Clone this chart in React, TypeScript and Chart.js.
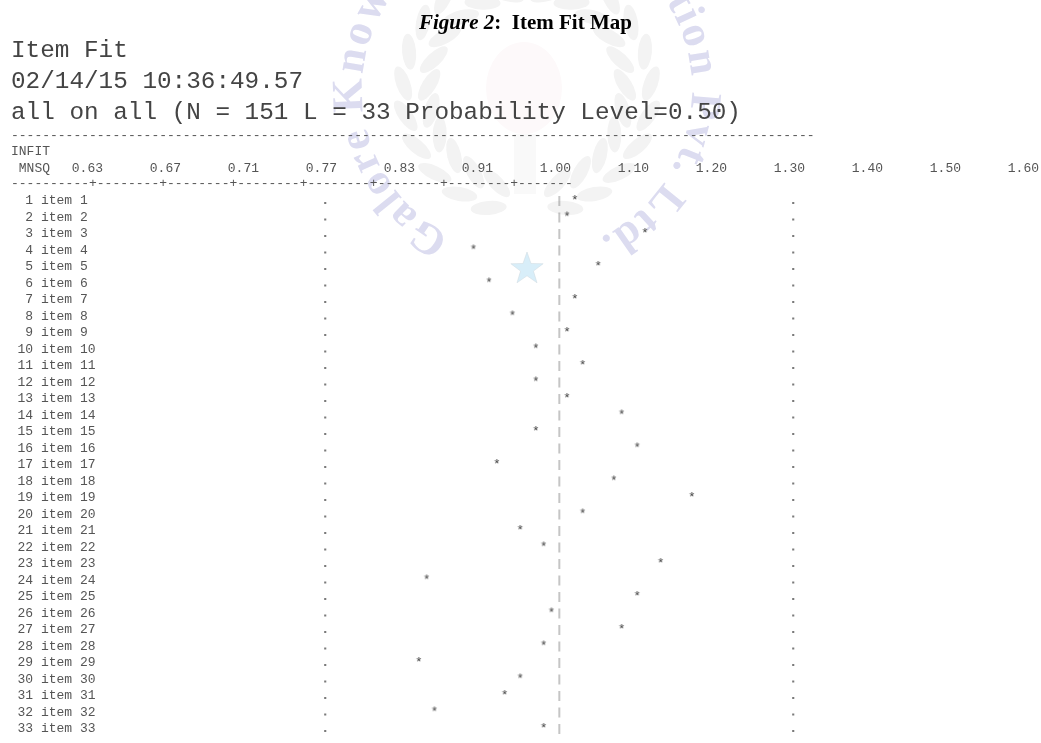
import React, { useEffect, useRef } from "react";
import { Chart, registerables } from "chart.js";

Chart.register(...registerables);

const MONO = '"Liberation Mono", monospace';
const SERIF = '"Liberation Serif", serif';
const INK = "#555555";

const caption = ["Figure 2", ":  Item Fit Map"];
const headerLines = ["Item Fit", "02/14/15 10:36:49.57", "all on all (N = 151 L = 33 Probability Level=0.50)"];
const tickLabels = ["0.63", "0.67", "0.71", "0.77", "0.83", "0.91", "1.00", "1.10", "1.20", "1.30", "1.40", "1.50", "1.60"];
const itemNumbers = [" 1", " 2", " 3", " 4", " 5", " 6", " 7", " 8", " 9", "10", "11", "12", "13", "14", "15", "16", "17", "18", "19", "20", "21", "22", "23", "24", "25", "26", "27", "28", "29", "30", "31", "32", "33"];
const itemNames = itemNumbers.map((n) => `${n} item ${n.trim()}`);
// Star positions on the axis, in tick units (0 = "0.63", 6 = "1.00", 9 = "1.30")
const starPositions = [6.2, 6.1, 7.1, 4.9, 6.5, 5.1, 6.2, 5.4, 6.1, 5.7, 6.3, 5.7, 6.1, 6.8, 5.7, 7.0, 5.2, 6.7, 7.7, 6.3, 5.5, 5.8, 7.3, 4.3, 7.0, 5.9, 6.8, 5.8, 4.2, 5.5, 5.3, 4.4, 5.8];
const lowerLimit = 3;
const centerLine = 6;
const upperLimit = 9;
const watermark = "Galore Knowledge of Innovation Pvt. Ltd.";

function glyph(ch: string, color: string, size = 13): HTMLCanvasElement {
  const c = document.createElement("canvas");
  c.width = 16;
  c.height = 20;
  const g = c.getContext("2d")!;
  g.font = `${size}px ${MONO}`;
  g.fillStyle = color;
  g.textAlign = "center";
  g.textBaseline = "middle";
  g.fillText(ch, 8, 10);
  return c;
}

const watermarkPlugin = {
  id: "watermark",
  beforeDraw(chart: any) {
    const ctx = chart.ctx;
    const cx = 527, cy = 90;
    ctx.save();
    // torch
    ctx.fillStyle = "#fdf9fa";
    ctx.beginPath();
    ctx.ellipse(524, 88, 38, 46, 0, 0, Math.PI * 2);
    ctx.fill();
    ctx.fillStyle = "#f9f9f9";
    ctx.fillRect(514, 134, 22, 60);
    // laurel wreath
    ctx.fillStyle = "#f3f3f3";
    for (const side of [-1, 1]) {
      for (let i = 0; i < 11; i++) {
        const a = ((18 + i * 15) * Math.PI) / 180;
        for (const [r, tilt] of [[98, 0.5], [124, -0.4]]) {
          const x = cx + side * r * Math.sin(a);
          const y = cy + r * Math.cos(a);
          ctx.beginPath();
          ctx.ellipse(x, y, 7, 18, -side * (a + tilt) + Math.PI / 2, 0, Math.PI * 2);
          ctx.fill();
        }
      }
    }
    // ring text
    ctx.font = `bold 44px ${SERIF}`;
    ctx.fillStyle = "#dcdcf0";
    ctx.textAlign = "center";
    ctx.textBaseline = "alphabetic";
    const widths = [...watermark].map((c) => ctx.measureText(c).width);
    const total = widths.reduce((a, b) => a + b, 0);
    const start = (207 * Math.PI) / 180;
    const span = (307 * Math.PI) / 180;
    let run = 0;
    [...watermark].forEach((c, i) => {
      const a = start + (span * (run + widths[i] / 2)) / total;
      run += widths[i];
      ctx.save();
      ctx.translate(cx + 165 * Math.sin(a), cy - 165 * Math.cos(a));
      ctx.rotate(a);
      ctx.fillText(c, 0, 0);
      ctx.restore();
    });
    // blue star
    ctx.fillStyle = "#d8eef9";
    ctx.strokeStyle = "#cfd8de";
    ctx.lineWidth = 0.5;
    ctx.beginPath();
    for (let i = 0; i < 10; i++) {
      const r = i % 2 === 0 ? 17 : 6.8;
      const a = (i * Math.PI) / 5;
      const x = 527 + r * Math.sin(a);
      const y = 269 - r * Math.cos(a);
      if (i === 0) ctx.moveTo(x, y);
      else ctx.lineTo(x, y);
    }
    ctx.closePath();
    ctx.fill();
    ctx.stroke();
    ctx.restore();
  },
};

const abs = (left: number, top: number, extra: React.CSSProperties): React.CSSProperties => ({
  position: "absolute",
  left,
  top,
  whiteSpace: "pre",
  margin: 0,
  pointerEvents: "none",
  ...extra,
});

export default function App() {
  const ref = useRef<HTMLCanvasElement>(null);
  useEffect(() => {
    const star = glyph("*", "#444444");
    const dot = glyph(".", "#444444");
    const bar = glyph("|", "#777777", 10);
    const series = (label: string, style: HTMLCanvasElement, xs: number[]) => ({
      label,
      data: xs.map((x, i) => ({ x, y: itemNames[i] })),
      pointStyle: style,
      pointRadius: 8,
      showLine: false,
      clip: false,
    });
    const chart = new Chart(ref.current!, {
      type: "scatter",
      data: {
        datasets: [
          series("lower", dot, itemNames.map(() => lowerLimit)),
          series("center", bar, itemNames.map(() => centerLine)),
          series("upper", dot, itemNames.map(() => upperLimit)),
          series("INFIT MNSQ", star, starPositions),
        ],
      },
      options: {
        responsive: false,
        animation: false,
        devicePixelRatio: 1,
        layout: { autoPadding: false, padding: { top: 0, left: 17.5, right: 0, bottom: 62.75 } },
        plugins: { legend: { display: false }, tooltip: { enabled: false } },
        scales: {
          x: {
            type: "linear",
            position: "top",
            min: 0.0551,
            max: 12.932,
            afterBuildTicks(s: any) {
              s.ticks = tickLabels.map((_, i) => ({ value: i }));
            },
            afterFit(s: any) {
              s.height = 192.75;
            },
            grid: { display: false, drawTicks: false },
            border: { display: false },
            ticks: {
              autoSkip: false,
              maxRotation: 0,
              padding: 16,
              labelOffset: -3.9,
              color: INK,
              font: { family: MONO, size: 13 },
              callback: (v: any) => tickLabels[Number(v)] ?? "",
            },
          },
          y: {
            type: "category",
            labels: itemNames,
            offset: true,
            afterFit(s: any) { s.width = 78.1; },
            grid: { display: false, drawTicks: false },
            border: { display: false },
            ticks: {
              autoSkip: false,
              crossAlign: "far",
              color: INK,
              font: { family: MONO, size: 13 },
            },
          },
        },
      } as any,
      plugins: [watermarkPlugin],
    });
    return () => chart.destroy();
  }, []);

  const small: React.CSSProperties = { font: `13px ${MONO}`, color: INK, lineHeight: "16px" };
  return (
    <div style={{ position: "absolute", left: 0, top: 0, width: 1041, height: 743, overflow: "hidden", background: "#fff" }}>
      <canvas ref={ref} width={1100} height={800} style={{ position: "absolute", left: 0, top: 0 }} />
      <div style={abs(419, 10, { font: `bold 21px ${SERIF}`, color: "#000", lineHeight: "24px" })}>
        <i>{caption[0]}</i>
        {caption[1]}
      </div>
      <pre style={abs(11, 35, { font: `24.33px ${MONO}`, color: "#444", lineHeight: "31px" })}>{headerLines.join("\n")}</pre>
      <div style={abs(11, 128, small)}>{"-".repeat(103)}</div>
      <div style={abs(11, 144, small)}>INFIT</div>
      <div style={abs(11, 161, small)}> MNSQ</div>
      <div style={abs(11, 176, small)}>{"----------+" + "--------+".repeat(6) + "-------"}</div>
    </div>
  );
}
